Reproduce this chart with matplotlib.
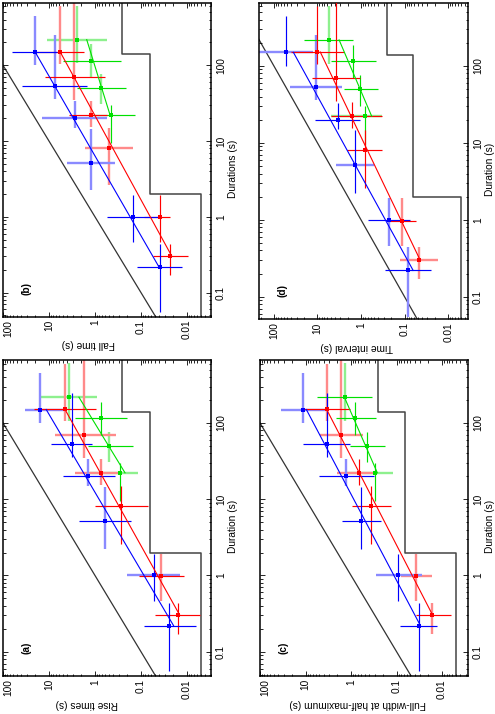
import numpy as np
import matplotlib
matplotlib.use('Agg')
import matplotlib.pyplot as plt
from matplotlib.ticker import LogLocator, NullFormatter

plt.rcParams['font.family'] = ['Liberation Sans', 'DejaVu Sans']

# ---------------- data ----------------
# durations (shared by all panels)
blue_dur = [0.22, 1.0, 5.2, 20.0, 53.0, 150.0]
blue_dur_lo = [0.055, 0.46, 2.25, 15.0, 36.0, 100.0]
blue_dur_hi = [0.44, 1.93, 14.5, 33.5, 250.0, 450.0]
red_dur = [0.30, 0.98, 8.2, 22.3, 70.0, 152.0]
red_dur_lo = [0.17, 0.46, 2.6, 15.4, 35.0, 105.0]
red_dur_hi = [0.44, 1.92, 14.7, 34.0, 700.0, 600.0]
green_dur = [22.2, 50.0, 115.0, 218.0]
green_dur_lo = [9.5, 30.5, 70.0, 106.0]
green_dur_hi = [30.0, 76.0, 190.0, 610.0]

# (a) rise times
rise_blue = [0.024, 0.053, 0.605, 1.40, 3.23, 15.3]
rise_blue_lo = [0.0063, 0.0139, 0.166, 0.366, 1.15, 4.5]
rise_blue_hi = [0.088, 0.197, 2.2, 4.9, 9.1, 33.8]
rise_red = [0.016, 0.0368, 0.275, 0.74, 1.71, 4.5]
rise_red_lo = [0.0051, 0.0118, 0.072, 0.284, 0.353, 0.95]
rise_red_hi = [0.049, 0.109, 1.0, 2.73, 7.5, 21.5]
rise_green = [0.284, 0.494, 0.74, 3.7]
rise_green_lo = [0.114, 0.146, 0.197, 0.92]
rise_green_hi = [1.29, 1.4, 2.73, 14.6]
rise_fit_blue = [-1.066, 0.977]   # log10 intercept, slope
rise_fit_red = [-1.362, 0.925]
rise_fit_green = [-2.013, 1.01]

# (b) fall times
fall_blue = [0.0394, 0.146, 1.24, 2.73, 7.47, 20.4]
fall_blue_lo = [0.0131, 0.039, 0.366, 0.54, 1.47, 6.86]
fall_blue_hi = [0.119, 0.54, 4.0, 13.9, 37.9, 62.7]
fall_red = [0.0239, 0.0394, 0.488, 1.22, 2.83, 5.8]
fall_red_lo = [0.0097, 0.023, 0.146, 0.547, 0.605, 1.71]
fall_red_hi = [0.056, 0.085, 1.65, 3.7, 12.4, 20.4]
fall_green = [0.448, 0.74, 1.22, 2.51]
fall_green_lo = [0.134, 0.214, 0.27, 0.54]
fall_green_hi = [1.4, 2.51, 4.9, 11.3]
fall_fit_blue = [-0.763, 0.949]
fall_fit_red = [-1.202, 0.90]
fall_fit_green = [-1.013, 0.51]

# (c) FWHM
fwhm_blue = [0.0324, 0.0918, 0.618, 1.27, 3.45, 11.5]
fwhm_blue_lo = [0.0128, 0.028, 0.225, 0.315, 1.03, 3.63]
fwhm_blue_hi = [0.0846, 0.29, 1.62, 5.1, 11.2, 35.4]
fwhm_red = [0.0164, 0.0369, 0.373, 0.674, 1.64, 3.45]
fwhm_red_lo = [0.0065, 0.0164, 0.13, 0.29, 0.55, 1.06]
fwhm_red_hi = [0.0382, 0.0789, 0.975, 2.01, 4.85, 11.8]
fwhm_green = [0.30, 0.456, 0.824, 1.39]
fwhm_green_lo = [0.12, 0.181, 0.29, 0.342]
fwhm_green_hi = [1.21, 1.06, 2.19, 5.73]
fwhm_fit_blue = [-0.942, 0.884]
fwhm_fit_red = [-1.343, 0.863]
fwhm_fit_green = [-1.56, 0.73]

# (d) time interval
intv_blue = [0.0853, 0.23, 1.39, 3.36, 10.9, 53.5]
intv_blue_lo = [0.0252, 0.0755, 0.508, 1.03, 2.72, 13.0]
intv_blue_hi = [0.284, 0.687, 3.66, 11.1, 43.3, 250.0]
intv_red = [0.0469, 0.115, 0.818, 1.65, 3.66, 10.2]
intv_red_lo = [0.0174, 0.0558, 0.338, 0.338, 1.03, 2.48]
intv_red_hi = [0.128, 0.238, 2.15, 4.95, 13.3, 39.6]
intv_green = [0.818, 1.03, 1.52, 5.5]
intv_green_lo = [0.338, 0.418, 0.457, 1.52]
intv_green_hi = [4.77, 2.48, 4.95, 20.3]
intv_fit_blue = [-0.559, 0.97]
intv_fit_red = [-0.914, 0.848]
intv_fit_green = [-1.26, 0.754]

# resolution limit (step) and equality line
step_dur_edges = [0.01, 2.0, 140.0, 1000.0]
step_times = [0.005, 0.064, 0.256]
equal_line = [0.01, 1000.0]

time_ticks = [100, 10, 1, 0.1, 0.01]
time_tick_labels = ['100', '10', '1', '0.1', '0.01']
dur_ticks = [0.1, 1, 10, 100]
dur_tick_labels = ['0.1', '1', '10', '100']

# ---------------- styles ----------------
# which error bars are drawn in the light shade (h: time bar, v: duration bar)
style = {
    'a': dict(blue_h=[0, 1, 0, 0, 0, 1], blue_v=[0, 0, 1, 1, 0, 1],
              red_h=[0, 0, 0, 1, 1, 0], red_v=[0, 1, 0, 1, 1, 1],
              green_h=[1, 0, 0, 1], green_v=[0, 1, 0, 1]),
    'b': dict(blue_h=[0, 0, 1, 1, 0, 0], blue_v=[0, 0, 1, 1, 1, 1],
              red_h=[0, 0, 1, 0, 0, 0], red_v=[0, 0, 1, 1, 1, 1],
              green_h=[0, 0, 0, 1], green_v=[0, 1, 1, 1]),
    'c': dict(blue_h=[0, 1, 0, 0, 0, 1], blue_v=[0, 0, 0, 1, 0, 1],
              red_h=[0, 1, 0, 1, 1, 0], red_v=[1, 1, 0, 0, 1, 1],
              green_h=[1, 0, 0, 0], green_v=[0, 0, 0, 1]),
    'd': dict(blue_h=[0, 0, 1, 0, 1, 1], blue_v=[1, 1, 0, 0, 1, 0],
              red_h=[1, 0, 0, 0, 0, 0], red_v=[1, 1, 0, 0, 0, 0],
              green_h=[1, 0, 0, 0], green_v=[0, 0, 0, 1]),
}
COL = {'blue': ('#0000ff', '#8a8aff'), 'red': ('#ff0000', '#ff8a8a'),
       'green': ('#00e000', '#8ef08e')}
LW_DARK, LW_LIGHT = 0.85, 1.7
FS = 7.3

panels = [
    dict(key='a', rect=[3/495, 1-676/714, 208/495, 316/714], xlim=(100, 0.003), ylim=(0.048, 670),
         tlabel='Rise times (s)', dlabel='Duration (s)', tlx=0.405,
         data=dict(blue=(rise_blue, rise_blue_lo, rise_blue_hi, rise_fit_blue),
                   red=(rise_red, rise_red_lo, rise_red_hi, rise_fit_red),
                   green=(rise_green, rise_green_lo, rise_green_hi, rise_fit_green))),
    dict(key='b', rect=[3/495, 1-316.7/714, 208/495, 314/714], xlim=(100, 0.003), ylim=(0.048, 670),
         tlabel='Fall time (s)', dlabel='Durations (s)', tlx=0.41,
         data=dict(blue=(fall_blue, fall_blue_lo, fall_blue_hi, fall_fit_blue),
                   red=(fall_red, fall_red_lo, fall_red_hi, fall_fit_red),
                   green=(fall_green, fall_green_lo, fall_green_hi, fall_fit_green))),
    dict(key='c', rect=[260/495, 1-676/714, 208/495, 316/714], xlim=(100, 0.0027), ylim=(0.048, 670),
         tlabel='Full-width at half-maximum (s)', dlabel='Duration (s)', tlx=0.469,
         data=dict(blue=(fwhm_blue, fwhm_blue_lo, fwhm_blue_hi, fwhm_fit_blue),
                   red=(fwhm_red, fwhm_red_lo, fwhm_red_hi, fwhm_fit_red),
                   green=(fwhm_green, fwhm_green_lo, fwhm_green_hi, fwhm_fit_green))),
    dict(key='d', rect=[259/495, 1-319.3/714, 209/495, 316.6/714], xlim=(220, 0.0035), ylim=(0.051, 664),
         tlabel='Time interval (s)', dlabel='Duration (s)', tlx=0.467,
         data=dict(blue=(intv_blue, intv_blue_lo, intv_blue_hi, intv_fit_blue),
                   red=(intv_red, intv_red_lo, intv_red_hi, intv_fit_red),
                   green=(intv_green, intv_green_lo, intv_green_hi, intv_fit_green))),
]

durs = dict(blue=(blue_dur, blue_dur_lo, blue_dur_hi),
            red=(red_dur, red_dur_lo, red_dur_hi),
            green=(green_dur, green_dur_lo, green_dur_hi))

fig = plt.figure(figsize=(4.95, 7.14), dpi=100)

for p in panels:
    ax = fig.add_axes(p['rect'])
    ax.set_xscale('log')
    ax.set_yscale('log')

    # equality line and resolution step (time on x, duration on y)
    ax.plot(equal_line, equal_line, color='#333333', lw=0.9, zorder=1)
    sx, sy = [], []
    for i, t in enumerate(step_times):
        sx += [t, t]
        sy += [step_dur_edges[i], step_dur_edges[i + 1]]
    ax.plot(sx, sy, color='#444444', lw=1.1, zorder=1)

    st = style[p['key']]
    for name in ['green', 'red', 'blue']:
        t, tlo, thi, fit = p['data'][name]
        d, dlo, dhi = durs[name]
        dark, light = COL[name]
        for i in range(len(d)):
            hl = st[name + '_h'][i]
            vl = st[name + '_v'][i]
            ax.hlines(d[i], tlo[i], thi[i], colors=light if hl else dark,
                      linewidth=LW_LIGHT if hl else LW_DARK, zorder=2 if hl else 3)
            ax.vlines(t[i], dlo[i], dhi[i], colors=light if vl else dark,
                      linewidth=LW_LIGHT if vl else LW_DARK, zorder=2 if vl else 3)
        dfit = np.array([min(d), max(d)])
        tfit = 10 ** (fit[0] + fit[1] * np.log10(dfit))
        ax.plot(tfit, dfit, color=dark, lw=0.8, zorder=4)
        ax.plot(t, d, 's', color=dark, ms=2.3, mew=0, zorder=5)

    ax.set_xlim(*p['xlim'])
    ax.set_ylim(*p['ylim'])

    ax.set_xticks(time_ticks, labels=time_tick_labels, rotation=90, va='top', ha='center',
                  fontsize=FS)
    ax.set_yticks(dur_ticks, labels=dur_tick_labels, rotation=90, va='center', ha='left',
                  fontsize=FS)
    # keep the edge label inside the figure
    if p['xlim'][0] == time_ticks[0]:
        ax.xaxis.get_major_ticks()[0].label1.set_horizontalalignment('left')
    ax.xaxis.set_minor_locator(LogLocator(base=10, subs=np.arange(2, 10), numticks=20))
    ax.yaxis.set_minor_locator(LogLocator(base=10, subs=np.arange(2, 10), numticks=20))
    ax.xaxis.set_minor_formatter(NullFormatter())
    ax.yaxis.set_minor_formatter(NullFormatter())
    ax.tick_params(which='both', direction='in', top=True, bottom=True, left=True, right=True,
                   labelleft=False, labelright=True, width=0.6)
    ax.tick_params(which='major', length=3.5)
    ax.tick_params(which='minor', length=1.8)
    ax.tick_params(axis='x', pad=2.2)
    ax.tick_params(axis='y', pad=3.5)
    for s in ax.spines.values():
        s.set_linewidth(1.1)

    ax.set_xlabel(p['tlabel'], rotation=180, fontsize=FS)
    ax.xaxis.set_label_coords(p['tlx'], -0.088)
    ax.xaxis.label.set_va('center')
    ax.yaxis.set_label_position('right')
    ax.set_ylabel(p['dlabel'], rotation=90, fontsize=FS)
    ax.yaxis.set_label_coords(1.106, 0.472)
    ax.yaxis.label.set_va('center')

    ax.text(0.114, 0.09, '(' + p['key'] + ')', transform=ax.transAxes, rotation=90,
            ha='center', va='center', fontsize=FS, fontweight='bold')

fig.savefig('out.png', dpi=100, facecolor='white')
